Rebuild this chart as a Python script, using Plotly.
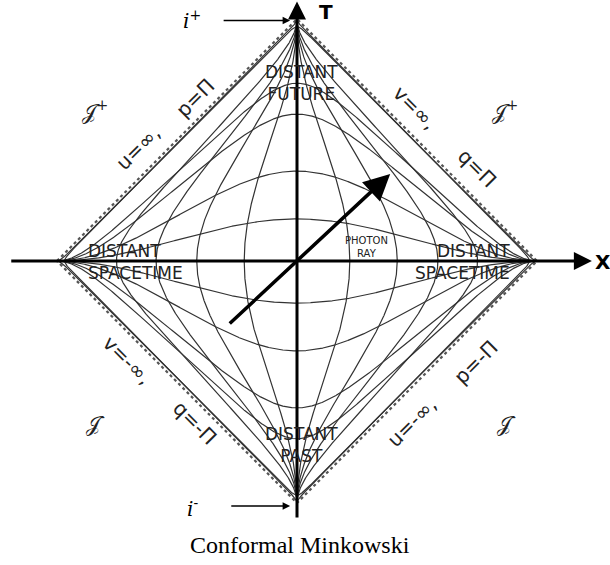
import numpy as np
import plotly.graph_objects as go

# ---- data (Minkowski coordinates of drawn grid lines) ----
t_values = [0.28, 0.66, 1.41, 2.26, 20.0]     # constant-time curves (both signs)
x_values = [0.36, 0.77, 1.32, 2.44, 20.0]     # constant-space curves (both signs)
photon_start = [-0.90, -0.83]                 # (X, T) conformal coords
photon_end = [1.22, 1.13]
x_axis_span = [-3.76, 3.86]
t_axis_span = [-3.35, 3.37]

PI = np.pi
s = np.linspace(-PI / 2, PI / 2, 1201)
param = np.tan(s)

def conformal(t, x):
    a = np.arctan(t + x)
    b = np.arctan(t - x)
    return a - b, a + b   # X, T

gx, gy = [], []
for tv in t_values:
    for sign in (1, -1):
        X, T = conformal(sign * tv, param)
        gx += list(X) + [None]
        gy += list(T) + [None]
for xv in x_values:
    for sign in (1, -1):
        X, T = conformal(param, sign * xv)
        gx += list(X) + [None]
        gy += list(T) + [None]

fig = go.Figure()
fig.add_trace(go.Scatter(x=gx, y=gy, mode="lines",
                         line=dict(color="#333333", width=1.2),
                         hoverinfo="skip", showlegend=False))
# boundary (dotted)
fig.add_trace(go.Scatter(x=[-PI, 0, PI, 0, -PI], y=[0, PI, 0, -PI, 0], mode="lines",
                         line=dict(color="#555555", width=2.2, dash="dot"),
                         hoverinfo="skip", showlegend=False))

# axes with arrows
fig.add_annotation(x=x_axis_span[1], y=0, ax=x_axis_span[0], ay=0,
                   xref="x", yref="y", axref="x", ayref="y", text="",
                   showarrow=True, arrowhead=2, arrowsize=1.2, arrowwidth=3, arrowcolor="black")
fig.add_annotation(x=0, y=t_axis_span[1], ax=0, ay=t_axis_span[0],
                   xref="x", yref="y", axref="x", ayref="y", text="",
                   showarrow=True, arrowhead=2, arrowsize=1.2, arrowwidth=3, arrowcolor="black")
# photon ray
fig.add_annotation(x=photon_end[0], y=photon_end[1], ax=photon_start[0], ay=photon_start[1],
                   xref="x", yref="y", axref="x", ayref="y", text="",
                   showarrow=True, arrowhead=2, arrowsize=1.5, arrowwidth=3.5, arrowcolor="black")

# i+ / i- arrows
fig.add_annotation(x=-0.09, y=PI - 0.02, ax=-0.98, ay=PI - 0.02,
                   xref="x", yref="y", axref="x", ayref="y", text="",
                   showarrow=True, arrowhead=2, arrowsize=1, arrowwidth=1.5, arrowcolor="black")
fig.add_annotation(x=-0.09, y=-PI - 0.04, ax=-0.88, ay=-PI - 0.04,
                   xref="x", yref="y", axref="x", ayref="y", text="",
                   showarrow=True, arrowhead=2, arrowsize=1, arrowwidth=1.5, arrowcolor="black")

# page pixel -> data
def px2x(px):
    return (px - 297) / (240 / PI)

def py2y(py):
    return (261 - py) / (242 / PI)

def label(text, px, py, size=15, angle=0, color="#222222", family="DejaVu Sans",
          xanchor="center", align="center"):
    fig.add_annotation(x=px2x(px), y=py2y(py), xref="x", yref="y", text=text,
                       showarrow=False, textangle=angle, xanchor=xanchor, yanchor="middle",
                       align=align, font=dict(size=size, color=color, family=family))

label("<i>i</i><sup>+</sup>", 192, 20, size=20, family="DejaVu Serif", color="black")
label("<i>i</i><sup>-</sup>", 192, 508, size=20, family="DejaVu Serif", color="black")
label("<b>T</b>", 326, 12, size=20, color="black")
label("<b>X</b>", 603, 262, size=20, color="black")

label("DISTANT<br>FUTURE", 301, 83, size=17)
label("DISTANT<br>PAST", 301, 445, size=17)
label("DISTANT<br>SPACETIME", 86, 262, size=17, xanchor="left", align="left")
label("DISTANT<br>SPACETIME", 512, 262, size=17, xanchor="right", align="right")
label("PHOTON<br>RAY", 366, 247, size=10)

label("u=∞,", 138, 148, size=20, angle=-45)
label("p=Π", 195, 98, size=20, angle=-45)
label("v=∞,", 415, 108, size=20, angle=45)
label("q=Π", 477, 168, size=20, angle=45)
label("v=-∞,", 127, 360, size=20, angle=45)
label("q=-Π", 195, 423, size=20, angle=45)
label("u=-∞,", 412, 422, size=20, angle=-45)
label("p=-Π", 476, 362, size=20, angle=-45)

label("𝒥<sup>+</sup>", 95, 110, size=21, family="DejaVu Serif")
label("𝒥<sup>+</sup>", 505, 110, size=21, family="DejaVu Serif")
label("𝒥<sup>-</sup>", 95, 422, size=21, family="DejaVu Serif")
label("𝒥<sup>-</sup>", 506, 422, size=21, family="DejaVu Serif")

label("Conformal Minkowski", 300, 545, size=24, family="Liberation Serif", color="black")

fig.update_layout(
    width=610, height=565, margin=dict(l=0, r=0, t=0, b=0),
    paper_bgcolor="white", plot_bgcolor="white", showlegend=False,
    xaxis=dict(range=[px2x(0), px2x(610)], visible=False, fixedrange=True),
    yaxis=dict(range=[py2y(565), py2y(0)], visible=False, fixedrange=True),
)
fig.write_html("out.html", config={"displayModeBar": False},
               post_script="document.body.style.margin='0';document.body.style.overflow='hidden';")
